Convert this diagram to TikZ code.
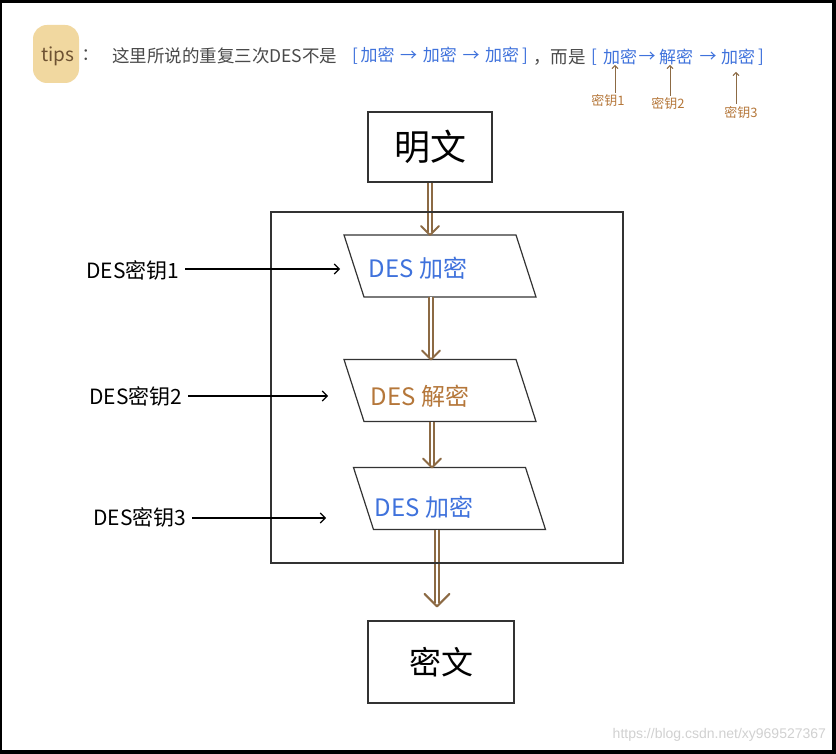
\documentclass[tikz,border=0pt]{standalone}
\usepackage{fontspec}
\newfontfamily\cjk{Noto Sans CJK SC}
\newfontfamily\wmfont{Liberation Sans}
\usetikzlibrary{arrows.meta,calc}
\definecolor{blueT}{HTML}{3F72DC}
\definecolor{brownT}{HTML}{B5773A}
\definecolor{brownA}{HTML}{8C6A44}
\definecolor{tanC}{HTML}{F1D8A0}
\definecolor{tipsC}{HTML}{6E5232}
\definecolor{lineC}{HTML}{333333}
\definecolor{topT}{HTML}{4A4A4A}
\newcommand\dblArr[3]{%
  \draw[dbl] (#1) -- ($(#2)+(0,-3)$);
  \draw[dblhead] ($(#2)+(-#3,-#3)$) -- (#2) -- ($(#2)+(#3,-#3)$);}
\newcommand\paraDraw[1]{%
  \draw[paraline] (#1.north west) -- ([xshift=-20pt]#1.north east) -- (#1.south east) -- ([xshift=20pt]#1.south west) -- cycle;}
\begin{document}
\begin{tikzpicture}[x=1pt,y=-1pt,
  fs/.style={font=\cjk\fontsize{#1}{#1}\selectfont},
  txt/.style={inner sep=0pt, outer sep=0pt},
  box/.style={draw=lineC, line width=1.3pt, inner sep=0pt},
  parabox/.style={inner sep=0pt, outer sep=0pt, minimum width=192pt, minimum height=62pt},
  paraline/.style={draw=lineC, line width=1.2pt, line join=miter},
  dbl/.style={draw=brownA, line width=2pt, double=white, double distance=2pt},
  dblhead/.style={draw=brownA, line width=2pt, line cap=round, line join=round},
  keyarrow/.style={draw=black, line width=1.1pt, -{Straight Barb[length=5pt,width=10pt,line width=1.1pt]}},
  smallarrow/.style={draw=brownA, line width=1pt, -{Straight Barb[length=3pt,width=6pt]}}]
\fill[black] (0,0) rectangle (836,754);
\fill[white] (2,3) rectangle (832,750);
\useasboundingbox (0,0) rectangle (836,754);

% tips line
\node[fill=tanC, rounded corners=14pt, minimum width=46pt, minimum height=58pt, inner sep=0pt] (tipsbg) at (56,54) {};
\node[txt, fs=19, text=tipsC] (tips) at (58,56) {tips};
\node[txt, fs=17, text=topT] (colon) at (90,55) {：};
\node[txt, fs=17.5, text=topT, anchor=west] (t1) at (112,56) {这里所说的重复三次DES不是};
\node[txt, fs=17, text=blueT, anchor=west] (b1) at (352,56) {[\,加密\,\,→\,\,加密\,\,→\,\,加密\,]};
\node[txt, fs=17.5, text=topT, anchor=west] (t2) at (533,57) {，而是};
\node[txt, fs=17, text=blueT] (lbr) at (594,57) {[};
\node[txt, fs=17, text=blueT] (w1) at (620,57) {加密};
\node[txt, fs=17, text=blueT] (ar1) at (647,57) {→};
\node[txt, fs=17, text=blueT] (w2) at (676,57) {解密};
\node[txt, fs=17, text=blueT] (ar2) at (708,57) {→};
\node[txt, fs=17, text=blueT] (w3) at (738,57) {加密};
\node[txt, fs=17, text=blueT] (rbr) at (761,57) {]};
\node[txt, fs=13, text=brownT] (kk1) at (608,101) {密钥1};
\node[txt, fs=13, text=brownT] (kk2) at (668,104) {密钥2};
\node[txt, fs=13, text=brownT] (kk3) at (741,113) {密钥3};
\draw[smallarrow] ([xshift=7pt,yshift=2pt]kk1.north) -- ([xshift=7pt]kk1.north |- w1.south);
\draw[smallarrow] ([xshift=2pt,yshift=2pt]kk2.north) -- ([xshift=2pt]kk2.north |- w2.south);
\draw[smallarrow] ([xshift=-5pt,yshift=3pt]kk3.north) -- ([xshift=-5pt,yshift=-7pt]kk3.north |- w3.south);

% boxes
\node[box, minimum width=124pt, minimum height=70pt, fs=36] (mw) at (430,147) {明文};
\node[box, minimum width=146pt, minimum height=82pt, fs=32] (mi) at (441,662) {密文};
\node[parabox] (p1) at (440,266) {};
\node[parabox] (p2) at (440,390.5) {};
\node[parabox] (p3) at (449.5,498.5) {};
\paraDraw{p1}
\paraDraw{p2}
\paraDraw{p3}
\node[txt, fs=24, text=blueT] (l1) at (418,268) {DES 加密};
\node[txt, fs=24, text=brownT] (l2) at (420,396) {DES 解密};
\node[txt, fs=24, text=blueT] (l3) at (424,507) {DES 加密};

% double arrows
\coordinate (a1s) at (mw.south);
\coordinate (a1e) at (mw.south |- p1.north);
\coordinate (a2s) at ([xshift=-9pt]p1.south);
\coordinate (a2e) at (a2s |- p2.north);
\coordinate (a3s) at ([xshift=-8pt]p2.south);
\coordinate (a3e) at (a3s |- p3.north);
\coordinate (a4s) at ([xshift=-12.5pt]p3.south);
\coordinate (a4t) at ([yshift=14pt]mi.north);
\coordinate (a4e) at (a4s |- a4t);
\dblArr{a1s}{a1e}{9}
\dblArr{a2s}{a2e}{9}
\dblArr{a3s}{a3e}{9}
\dblArr{a4s}{a4e}{12.5}

% frame
\node[draw=lineC, line width=1.3pt, minimum width=352pt, minimum height=351pt, inner sep=0pt] (frame) at (447,387.5) {};

% keys
\node[txt, fs=21] (k1) at (133,270) {DES密钥1};
\node[txt, fs=21] (k2) at (136,396) {DES密钥2};
\node[txt, fs=21] (k3) at (140,517) {DES密钥3};
\coordinate (e1) at (340,269);
\coordinate (e2) at (328,396);
\coordinate (e3) at (326,518);
\draw[keyarrow] ([xshift=6pt]k1.east |- e1) -- (e1);
\draw[keyarrow] ([xshift=6pt]k2.east |- e2) -- (e2);
\draw[keyarrow] ([xshift=6pt]k3.east |- e3) -- (e3);

% watermark
\node[txt, font=\wmfont\fontsize{14}{14}\selectfont, text=black!18, anchor=east] (wm) at (826,735) {https://blog.csdn.net/xy969527367};
\end{tikzpicture}
\end{document}
